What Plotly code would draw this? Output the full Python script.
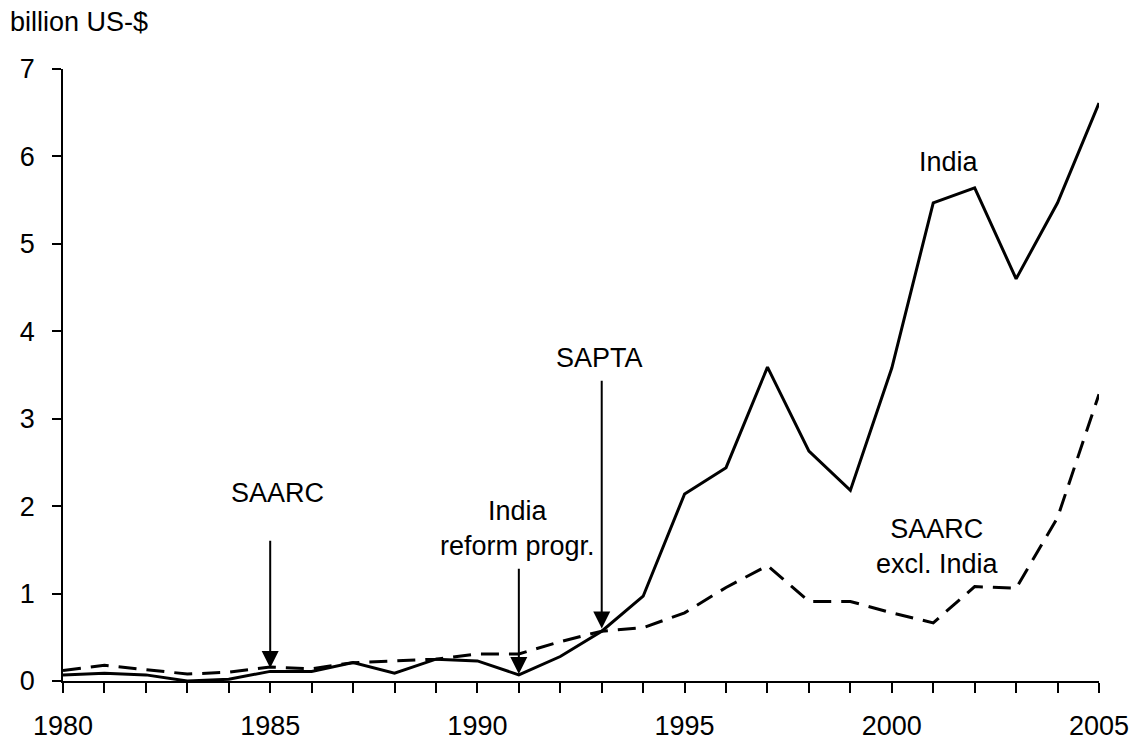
import plotly.graph_objects as go

years = list(range(1980, 2006))
india = [0.07, 0.09, 0.07, 0.00, 0.02, 0.11, 0.11, 0.21, 0.09, 0.25,
         0.23, 0.07, 0.28, 0.57, 0.97, 2.14, 2.44, 3.59, 2.63, 2.18,
         3.58, 5.47, 5.64, 4.60, 5.47, 6.61]
saarc_ex = [0.12, 0.18, 0.13, 0.08, 0.10, 0.16, 0.14, 0.21, 0.23, 0.25,
            0.31, 0.31, 0.45, 0.57, 0.61, 0.78, 1.07, 1.32, 0.91, 0.91,
            0.78, 0.665, 1.08, 1.06, 1.87, 3.28]

# events: (year, arrow tip value, arrow tail value)
events_x = [1985, 1991, 1993]
events_tip = [0.15, 0.08, 0.60]
events_tail = [1.62, 1.30, 3.45]

FONT = "Liberation Sans, Arial, sans-serif"
FS = 27

fig = go.Figure()
fig.add_trace(go.Scatter(x=years, y=india, mode="lines", name="India",
                         line=dict(color="black", width=3)))
fig.add_trace(go.Scatter(x=years, y=saarc_ex, mode="lines", name="SAARC excl. India",
                         line=dict(color="black", width=3, dash="18px,10px")))

anns = []
for ex, tip, tail in zip(events_x, events_tip, events_tail):
    anns.append(dict(x=ex, y=tip, ax=ex, ay=tail, xref="x", yref="y",
                     axref="x", ayref="y", text="", showarrow=True,
                     arrowhead=2, arrowsize=1.7, arrowwidth=2, arrowcolor="black"))

texts = [
    ("SAARC", 1985.18, 2.15),
    ("India<br>reform progr.", 1990.97, 1.74),
    ("SAPTA", 1992.95, 3.70),
    ("India", 2001.37, 5.94),
    ("SAARC<br>excl. India", 2001.1, 1.54),
]
for t, x, y in texts:
    anns.append(dict(x=x, y=y, xref="x", yref="y", text=t, showarrow=False,
                     xanchor="center", yanchor="middle",
                     font=dict(family=FONT, size=FS, color="black")))

anns.append(dict(x=-0.053, y=1.077, xref="paper", yref="paper", text="billion US-$",
                 showarrow=False, xanchor="left", yanchor="middle",
                 font=dict(family=FONT, size=FS, color="black")))

fig.update_layout(
    width=1139, height=742,
    margin=dict(l=63, r=40, t=69, b=61, autoexpand=False),
    paper_bgcolor="white", plot_bgcolor="white",
    showlegend=False,
    font=dict(family=FONT, size=FS, color="black"),
    annotations=anns,
    xaxis=dict(range=[1980, 2005], dtick=5, tick0=1980, showgrid=False, zeroline=False,
               showline=True, linecolor="black", linewidth=1.5, automargin=False,
               ticks="outside", ticklen=10, tickwidth=1.5, tickcolor="black",
               minor=dict(dtick=1, ticks="outside", ticklen=10, tickwidth=1.5, tickcolor="black"),
               tickfont=dict(family=FONT, size=FS, color="black"),
               ticklabelstandoff=10),
    yaxis=dict(range=[0, 7], dtick=1, showgrid=False, zeroline=False,
               showline=True, linecolor="black", linewidth=1.5, automargin=False,
               ticks="outside", ticklen=9, tickwidth=1.5, tickcolor="black",
               tickfont=dict(family=FONT, size=FS, color="black"),
               ticklabelstandoff=12),
)

fig.write_html("out.html", config={"displayModeBar": False},
               post_script="document.body.style.margin='0';")
